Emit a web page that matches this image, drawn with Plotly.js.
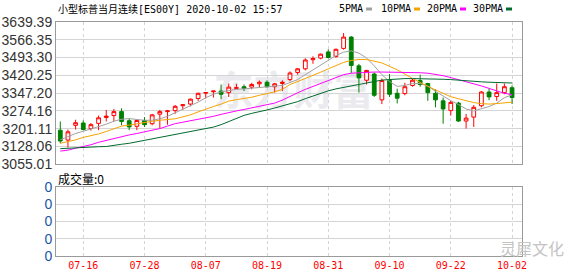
<!DOCTYPE html>
<html>
<head>
<meta charset="utf-8">
<script src="https://cdn.plot.ly/plotly-3.0.1.min.js"></script>
<style>html,body{margin:0;padding:0;background:#fff;}#chart{width:578px;height:276px;}</style>
</head>
<body>
<div id="chart"></div>
<script>
const categories = ['07-13','07-14','07-15','07-16','07-17','07-20','07-21','07-22','07-23','07-24','07-27','07-28','07-29','07-30','07-31',
'08-03','08-04','08-05','08-06','08-07','08-10','08-11','08-12','08-13','08-14','08-17','08-18','08-19','08-20','08-21','08-24','08-25','08-26','08-27','08-28','08-31',
'09-01','09-02','09-03','09-04','09-07','09-08','09-09','09-10','09-11','09-14','09-15','09-16','09-17','09-18','09-21','09-22','09-23','09-24','09-25','09-28','09-29','09-30',
'10-01','10-02'];
const openV  = [3194.9,3154.6,3215.0,3224.6,3201.8,3223.0,3247.2,3255.3,3271.4,3233.9,3211.0,3235.0,3221.8,3260.9,3271.4,
3275.4,3295.6,3302.3,3325.2,3347.0,3353.0,3355.8,3349.4,3366.7,3373.6,3372.0,3385.6,3392.0,3373.6,3386.8,3402.9,3432.3,3447.2,3484.5,3491.1,3516.5,
3497.4,3531.0,3577.5,3459.3,3400.1,3425.9,3319.6,3399.0,3346.6,3345.4,3378.8,3398.9,3386.8,3346.6,3315.6,3275.4,3306.4,3232.7,3248.8,3295.5,3351.8,3333.3,
3349.4,3369.5];
const highV  = [3231.0,3197.7,3238.0,3235.0,3224.6,3255.3,3278.2,3282.2,3285.0,3242.0,3238.0,3248.8,3262.0,3278.2,3278.2,
3298.3,3300.5,3325.2,3349.4,3351.8,3356.5,3382.8,3386.8,3385.6,3382.8,3389.6,3399.0,3400.0,3389.6,3400.0,3436.4,3450.0,3490.3,3498.6,3509.8,3527.3,
3530.0,3593.9,3581.5,3467.3,3443.0,3432.3,3407.0,3425.9,3365.5,3389.6,3405.8,3423.0,3389.6,3362.7,3329.3,3315.6,3311.6,3262.0,3298.3,3355.8,3365.5,3386.8,
3386.8,3378.8];
const lowV   = [3141.0,3124.0,3197.7,3195.0,3193.7,3195.0,3231.0,3231.0,3215.0,3195.0,3195.0,3208.5,3215.0,3201.8,3217.8,
3262.0,3278.2,3293.1,3315.6,3325.2,3329.3,3322.5,3331.7,3362.7,3355.8,3362.7,3369.5,3369.5,3349.4,3355.8,3396.1,3423.0,3440.4,3467.8,3486.3,3490.3,
3492.7,3526.0,3430.7,3349.4,3382.8,3331.7,3302.3,3331.7,3305.0,3338.5,3373.6,3373.6,3315.6,3289.0,3221.8,3255.3,3228.7,3201.8,3208.5,3289.0,3318.5,3315.6,
3342.6,3302.3];
const closeV = [3150.6,3188.4,3225.8,3197.7,3217.8,3246.0,3252.8,3271.4,3231.0,3208.5,3235.0,3217.8,3258.0,3271.4,3274.1,
3293.1,3299.5,3322.5,3346.6,3349.8,3355.8,3342.6,3372.0,3369.5,3366.7,3382.8,3392.0,3373.6,3385.6,3392.0,3430.0,3447.2,3483.4,3489.5,3507.2,3493.6,
3527.3,3577.5,3461.0,3409.8,3440.4,3338.5,3399.0,3342.6,3326.5,3373.6,3400.1,3382.8,3349.4,3319.6,3282.2,3309.2,3232.7,3244.8,3289.0,3351.8,3331.7,3349.4,
3373.6,3329.3];
const volume = [0,0,0,0,0,0,0,0,0,0,0,0,0,0,0,
0,0,0,0,0,0,0,0,0,0,0,0,0,0,0,0,0,0,0,0,0,
0,0,0,0,0,0,0,0,0,0,0,0,0,0,0,0,0,0,0,0,0,0,
0,0];
const ma5  = [3155.4,3169.5,3181.6,3190.9,3201.7,3209.8,3219.8,3231.9,3240.0,3242.8,3239.1,3235.9,3235.9,3242.0,3252.0,
3266.1,3282.2,3296.3,3310.4,3328.5,3342.6,3352.6,3358.7,3362.7,3364.7,3367.5,3370.8,3372.8,3376.8,3378.8,3390.9,3402.9,3423.1,3443.2,3463.3,3483.4,
3501.5,3515.6,3520.9,3511.6,3491.5,3459.3,3423.1,3394.9,3374.8,3378.8,3386.8,3386.8,3376.8,3354.7,3334.5,3316.4,3300.3,3282.2,3274.2,3284.2,3292.3,3306.4,
3328.5,3340.6];
const ma10 = [3141.3,3147.4,3155.4,3165.5,3171.5,3179.6,3189.6,3201.7,3211.8,3215.8,3221.8,3227.9,3231.9,3235.9,3237.9,
3242.0,3250.0,3258.1,3270.1,3282.2,3292.3,3302.3,3314.4,3320.4,3324.5,3330.5,3338.5,3344.6,3352.6,3362.7,3382.8,3394.9,3407.0,3421.1,3433.1,3447.2,
3459.3,3473.4,3481.4,3485.5,3485.5,3479.4,3471.4,3457.3,3443.2,3425.1,3407.0,3390.9,3374.8,3360.7,3346.6,3332.5,3324.5,3316.4,3308.4,3304.3,3302.3,3304.3,
3308.4,3310.4];
const ma20 = [3109.2,3113.2,3121.2,3127.3,3135.3,3145.4,3153.4,3161.5,3169.5,3175.6,3181.6,3187.6,3193.7,3201.7,3211.8,
3221.8,3227.9,3233.9,3240.0,3244.0,3252.0,3260.1,3268.1,3274.2,3280.2,3286.2,3292.3,3298.3,3306.4,3318.4,3334.5,3348.6,3362.7,3374.8,3384.8,3398.9,
3411.0,3423.1,3429.1,3431.1,3433.1,3433.9,3433.9,3433.9,3433.9,3433.1,3432.3,3431.1,3429.1,3425.1,3419.0,3411.0,3402.9,3394.9,3386.8,3376.8,3366.7,3356.7,
3346.6,3340.6];
const ma30 = [3119.2,3121.2,3123.2,3125.2,3126.5,3127.3,3128.1,3131.3,3137.3,3141.3,3147.4,3151.4,3157.4,3163.5,3171.5,
3175.6,3181.6,3187.6,3193.7,3201.7,3207.8,3217.8,3229.9,3244.0,3256.0,3264.1,3270.1,3278.2,3286.2,3294.3,3302.3,3312.4,3324.5,3335.7,3346.6,3356.7,
3364.7,3370.8,3378.8,3384.8,3390.9,3396.1,3400.9,3402.9,3405.8,3407.0,3407.0,3407.0,3407.0,3405.8,3404.2,3402.9,3400.1,3396.9,3394.9,3393.7,3392.1,3390.9,
3389.7,3388.9];
const xTickLabels = ['07-16','07-28','08-07','08-19','08-31','09-10','09-22','10-02'];
const yTickVals = [3055.01,3128.06,3201.11,3274.16,3347.20,3420.25,3493.30,3566.35,3639.39];
const yTickText = ['3055.01','3128.06','3201.11','3274.16','3347.20','3420.25','3493.30','3566.35','3639.39'];
const volTickVals = [0,1,2,3,4];
const volTickText = ['0','0','0','0','0'];
const maNames = ['5PMA','10PMA','20PMA','30PMA'];
const maColors = ['#a0a0a0','#f5a300','#ff00ff','#006b2e'];
const titleCn = '小型标普当月连续';
const titleCode = '[ES00Y] 2020-10-02 15:57';

const mono = 'DejaVu Sans Mono';
const cjk = 'Noto Sans CJK SC';

const traces = [
  {type:'candlestick', x:categories, open:openV, high:highV, low:lowV, close:closeV,
   xaxis:'x', yaxis:'y', whiskerwidth:0, hoverinfo:'skip',
   increasing:{line:{color:'#ff0000', width:1}, fillcolor:'#ffffff'},
   decreasing:{line:{color:'#008000', width:1}, fillcolor:'#008000'}},
  {type:'bar', x:categories, y:volume, xaxis:'x2', yaxis:'y2', marker:{color:'#ff0000', line:{width:0}}, hoverinfo:'skip'}
];
[ma5, ma10, ma20, ma30].forEach((arr, k) => {
  traces.push({type:'scatter', mode:'lines', x:categories, y:arr, xaxis:'x', yaxis:'y',
    name:maNames[k], line:{color:maColors[k], width:1}, hoverinfo:'skip'});
});

const px = v => (v - 56) / 466;
const py = v => (256 - v) / 234;

const annotations = [
  {xref:'paper', yref:'paper', x:px(56), y:py(9), xanchor:'left', yanchor:'middle', showarrow:false,
   text:'<span style="font-family:' + cjk + '">' + titleCn + '</span>' + titleCode,
   font:{family:mono, size:10, color:'#000'}},
  {xref:'paper', yref:'paper', x:px(56), y:py(178), xanchor:'left', yanchor:'middle', showarrow:false,
   text:'成交量:0', font:{family:cjk, size:12, color:'#000'}},
  {xref:'paper', yref:'paper', x:px(532), y:py(248), xanchor:'center', yanchor:'middle', showarrow:false,
   text:'灵犀文化', font:{family:cjk, size:16, color:'#c4c4c4'}}
];
const legX = [337, 379, 425, 471];
const dashX = [366, 414, 460, 506];
const shapes = [
  {type:'rect', xref:'paper', yref:'paper', x0:px(205), x1:px(382), y0:py(113), y1:py(74), layer:'below',
   line:{width:0}, fillcolor:'rgba(0,0,0,0)',
   label:{text:'东方财富', textposition:'middle center', font:{family:cjk, size:40, color:'#ebebef', weight:'bold'}}}
];
maNames.forEach((n, k) => {
  annotations.push({xref:'paper', yref:'paper', x:px(legX[k]), y:py(9), xanchor:'left', yanchor:'middle',
    showarrow:false, text:n, font:{family:mono, size:10, color:'#000'}});
  shapes.push({type:'line', xref:'paper', yref:'paper', x0:px(dashX[k]), x1:px(dashX[k]+6), y0:py(9), y1:py(9),
    line:{color:maColors[k], width:3}});
});

const gridC = '#d4d4d4';
const lineC = '#9a9a9a';
const layout = {
  width:578, height:276,
  margin:{l:56, r:56, t:22, b:20, pad:0},
  paper_bgcolor:'#ffffff', plot_bgcolor:'#ffffff',
  showlegend:false,
  xaxis:{type:'category', anchor:'y', domain:[0,1], range:[-0.56, 60.3], tickvals:xTickLabels,
    showticklabels:false, ticks:'', showgrid:true, gridcolor:gridC, griddash:'3px,3px', gridwidth:1,
    showline:true, mirror:true, linecolor:lineC, linewidth:1, zeroline:false, fixedrange:true,
    rangeslider:{visible:false}},
  yaxis:{anchor:'x', domain:[py(164.3), 1], range:[3055.0, 3639.4], tickvals:yTickVals, ticktext:yTickText,
    ticks:'', showgrid:true, gridcolor:gridC, gridwidth:1, showline:true, mirror:true, linecolor:lineC, linewidth:1,
    zeroline:false, fixedrange:true, tickfont:{family:'Liberation Sans', size:14, color:'#333'}},
  xaxis2:{type:'category', anchor:'y2', domain:[0,1], range:[-0.56, 60.3], tickvals:xTickLabels, ticktext:xTickLabels,
    ticks:'', showgrid:true, gridcolor:gridC, griddash:'3px,3px', gridwidth:1,
    showline:true, mirror:true, linecolor:lineC, linewidth:1, zeroline:false, fixedrange:true,
    tickfont:{family:mono, size:10, color:'#ff0000'}},
  yaxis2:{anchor:'x2', domain:[0, py(186.7)], range:[-0.001, 4.001], tickvals:volTickVals, ticktext:volTickText,
    ticks:'', showgrid:true, gridcolor:gridC, gridwidth:1, showline:true, mirror:true, linecolor:lineC, linewidth:1,
    zeroline:false, fixedrange:true, tickfont:{family:'Liberation Sans', size:14, color:'#1a56a8'}},
  annotations:annotations,
  shapes:shapes
};
Plotly.newPlot('chart', traces, layout, {staticPlot:true, displayModeBar:false});
</script>
</body>
</html>
